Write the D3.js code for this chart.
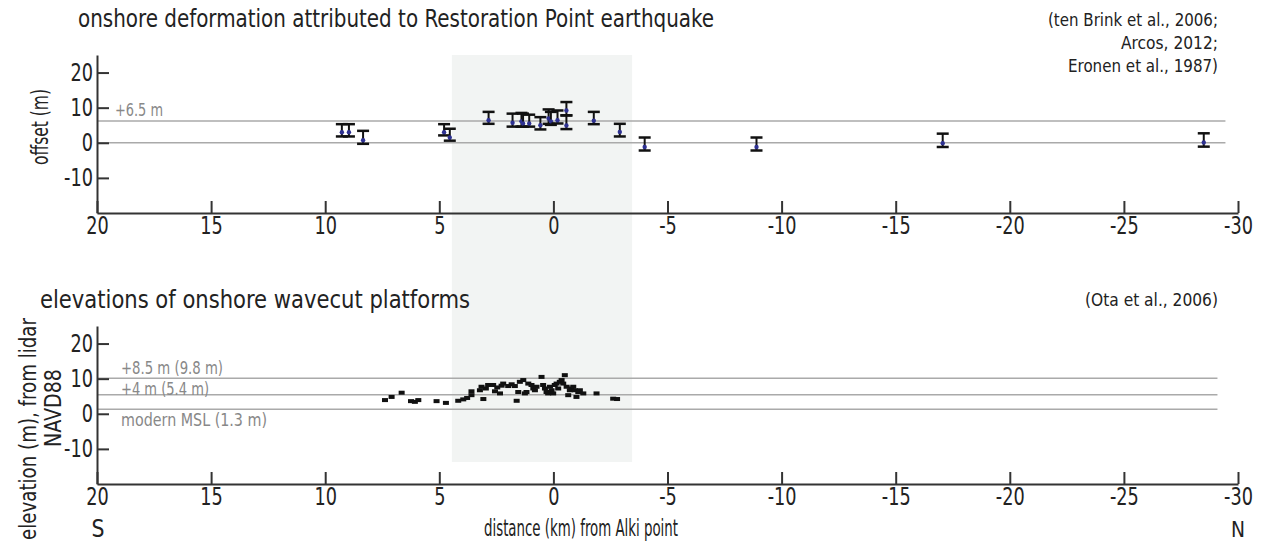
<!DOCTYPE html>
<html>
<head>
<meta charset="utf-8">
<script src="https://cdn.jsdelivr.net/npm/d3@7"></script>
<style>
  body { margin: 0; background: #fff; }
  svg text { font-family: "Liberation Sans Narrow", "DejaVu Sans Condensed", "Roboto Condensed", sans-serif; font-stretch: condensed; fill: #222; }
</style>
</head>
<body>
<div id="chart"></div>
<script>
// chart size
const width = 1261;
const height = 544;

// offset data, top panel (distance km, offset m, error bar low/high)
const offsetDist = [9.27, 8.96, 8.34, 4.79, 4.54, 2.84, 1.79, 1.40, 1.33, 1.06, 0.57, 0.21, 0.11, -0.18, -0.57, -0.57, -1.77, -2.91, -4.0, -8.9, -17.06, -28.5];
const offsetVal  = [3.0, 3.0, 0.7, 3.0, 1.5, 6.4, 5.7, 6.1, 5.5, 5.5, 5.0, 6.9, 6.1, 6.4, 9.2, 4.9, 6.3, 3.1, -1.2, -1.2, -0.1, 0.1];
const offsetLo   = [1.8, 1.8, -0.3, 2.1, 0.6, 5.4, 4.6, 4.6, 4.6, 4.6, 3.8, 5.4, 5.1, 5.5, 7.8, 3.9, 5.3, 1.8, -2.2, -2.2, -1.2, -1.1];
const offsetHi   = [5.3, 5.3, 3.4, 5.3, 4.0, 8.8, 8.3, 8.5, 8.3, 8.0, 7.3, 9.5, 8.8, 9.2, 11.6, 7.8, 8.8, 5.4, 1.5, 1.5, 2.6, 2.7];

// wavecut platform elevations, bottom panel
const platDist = [7.38, 7.09, 6.65, 6.24, 6.07, 5.92, 5.12, 4.71, 4.17, 3.95, 3.78, 3.59, 3.59, 3.22, 3.15, 3.07, 2.96, 2.86, 2.64, 2.56,
                  2.46, 2.34, 2.27, 2.20, 1.98, 1.83, 1.69, 1.61, 1.54, 1.47, 1.32, 1.25, 1.18, 1.10, 0.96, 0.88, 0.81, 0.74, 0.52, 0.45,
                  0.37, 0.30, 0.23, 0.15, 0.08, 0.01, -0.06, -0.14, -0.21, -0.28, -0.36, -0.43, -0.50, -0.58, -0.65, -0.72, -0.79, -0.87, -0.94, -1.01,
                  -1.09, -1.16, -1.31, -1.89, -2.62, -2.79];
const platElev = [3.9, 4.8, 6.0, 3.6, 3.4, 3.9, 3.6, 3.1, 3.7, 4.1, 4.5, 5.3, 6.4, 6.7, 7.7, 4.2, 7.2, 8.2, 8.2, 6.4,
                  7.5, 5.8, 8.0, 8.6, 7.9, 8.4, 7.9, 3.7, 6.2, 9.1, 9.6, 5.8, 6.2, 8.6, 8.2, 7.2, 6.7, 7.7, 10.5, 8.2,
                  7.2, 6.2, 5.8, 7.7, 6.7, 5.8, 8.2, 8.6, 7.2, 9.1, 9.6, 8.6, 11.0, 7.7, 5.3, 6.7, 7.2, 7.7, 6.7, 4.8,
                  6.2, 6.7, 5.8, 5.8, 4.3, 4.2];

// reference lines
const topLines = [0, 6.2];
const topLineLabels = [{v: 6.2, text: "+6.5 m", dy: -5, len: 48}];
const botLines = [10.1, 5.4, 1.3];
const botLineLabels = [
  {v: 10.1, text: "+8.5 m (9.8 m)", dy: -4, len: 102},
  {v: 5.4, text: "+4 m (5.4 m)", dy: 0, len: 88},
  {v: 1.3, text: "modern MSL (1.3 m)", dy: 17, len: 146}
];

// tick values
const xTicks = [20, 15, 10, 5, 0, -5, -10, -15, -20, -25, -30];
const yTicks = [20, 10, 0, -10];

// shaded zone
const shadeZone = [4.45, -3.45];

const svg = d3.select("#chart")
  .append("svg")
  .attr("width", width)
  .attr("height", height);

// scales
const xScale = d3.scaleLinear().domain([20, -30]).range([97, 1238]);
const yTop = d3.scaleLinear().domain([-20, 25]).range([213, 55]);
const yBot = d3.scaleLinear().domain([-20, 25]).range([484, 326]);

// helper for narrow text: squeeze to a given width
function label(x, y, str, size, len, anchor) {
  return svg.append("text")
    .attr("x", x).attr("y", y)
    .attr("font-size", size + "px")
    .attr("text-anchor", anchor || "start")
    .attr("textLength", len)
    .attr("lengthAdjust", "spacingAndGlyphs")
    .text(str);
}

// shade
svg.append("rect")
  .attr("x", xScale(shadeZone[0]))
  .attr("y", yTop(25))
  .attr("width", xScale(shadeZone[1]) - xScale(shadeZone[0]))
  .attr("height", 462 - yTop(25))
  .attr("fill", "#f2f4f3");

/*
  reference lines
*/
svg.selectAll(".topline")
  .data(topLines)
  .enter()
  .append("line")
  .attr("x1", xScale(20)).attr("x2", xScale(-29.45))
  .attr("y1", d => yTop(d)).attr("y2", d => yTop(d))
  .attr("stroke", "#aaa").attr("stroke-width", 1.5);

topLineLabels.forEach(d => {
  label(115, yTop(d.v) + d.dy, d.text, 17, d.len).style("fill", "#888");
});

svg.selectAll(".botline")
  .data(botLines)
  .enter()
  .append("line")
  .attr("x1", xScale(20)).attr("x2", xScale(-29.1))
  .attr("y1", d => yBot(d)).attr("y2", d => yBot(d))
  .attr("stroke", "#aaa").attr("stroke-width", 1.5);

botLineLabels.forEach(d => {
  label(121, yBot(d.v) + d.dy, d.text, 17, d.len).style("fill", "#888");
});

/*
  axes
*/
function drawAxes(yScale, yPos) {
  const gy = svg.append("g")
    .attr("transform", `translate(${xScale(20)},0)`)
    .call(d3.axisLeft(yScale).tickValues(yTicks).tickFormat(d => String(d))
      .tickSize(-12).tickSizeOuter(0).tickPadding(5))
    .attr("font-size", "24px");
  const gx = svg.append("g")
    .attr("transform", `translate(0,${yPos})`)
    .call(d3.axisBottom(xScale).tickValues(xTicks).tickFormat(d => String(d))
      .tickSize(-12).tickSizeOuter(0).tickPadding(4))
    .attr("font-size", "24px");
  [gy, gx].forEach(g => {
    g.select(".domain").attr("stroke", "#333").attr("stroke-width", 2);
    g.selectAll(".tick line").attr("stroke", "#333").attr("stroke-width", 2);
    g.selectAll("text").style("fill", "#222").attr("transform", "scale(0.82,1)");
  });
}
drawAxes(yTop, 213);
drawAxes(yBot, 484);

/*
  error bars (top)
*/
const offsetData = offsetDist.map((d, i) => ({dist: d, val: offsetVal[i], lo: offsetLo[i], hi: offsetHi[i]}));
const bars = svg.selectAll(".ebar")
  .data(offsetData)
  .enter()
  .append("g")
  .attr("class", "ebar");
bars.append("line")
  .attr("x1", d => xScale(d.dist)).attr("x2", d => xScale(d.dist))
  .attr("y1", d => yTop(d.lo)).attr("y2", d => yTop(d.hi))
  .attr("stroke", "#111").attr("stroke-width", 2);
bars.append("line")
  .attr("x1", d => xScale(d.dist) - 6).attr("x2", d => xScale(d.dist) + 6)
  .attr("y1", d => yTop(d.hi)).attr("y2", d => yTop(d.hi))
  .attr("stroke", "#111").attr("stroke-width", 2.5);
bars.append("line")
  .attr("x1", d => xScale(d.dist) - 6).attr("x2", d => xScale(d.dist) + 6)
  .attr("y1", d => yTop(d.lo)).attr("y2", d => yTop(d.lo))
  .attr("stroke", "#111").attr("stroke-width", 2.5);
bars.append("circle")
  .attr("cx", d => xScale(d.dist))
  .attr("cy", d => yTop(d.val))
  .attr("r", 2.2)
  .attr("fill", "#2e3192");

/*
  platform points (bottom)
*/
const platData = platDist.map((d, i) => ({dist: d, elev: platElev[i]}));
svg.selectAll(".plat")
  .data(platData)
  .enter()
  .append("rect")
  .attr("x", d => xScale(d.dist) - 3)
  .attr("y", d => yBot(d.elev) - 2)
  .attr("width", 6)
  .attr("height", 4)
  .attr("fill", "#111");

/*
  titles and labels
*/
label(78, 27, "onshore deformation attributed to Restoration Point earthquake", 24, 636);
label(40, 308, "elevations of onshore wavecut platforms", 24, 430);

const cites = [["(ten Brink et al., 2006;", 170], ["Arcos, 2012;", 97], ["Eronen et al., 1987)", 150]];
cites.forEach((c, i) => label(1218, 26 + i * 23, c[0], 18, c[1], "end"));
label(1218, 306, "(Ota et al., 2006)", 18, 133, "end");

svg.append("text")
  .attr("transform", "translate(48,127) rotate(-90)")
  .attr("text-anchor", "middle").attr("font-size", "23px")
  .attr("textLength", 76).attr("lengthAdjust", "spacingAndGlyphs")
  .text("offset (m)");
svg.append("text")
  .attr("transform", "translate(36,429) rotate(-90)")
  .attr("text-anchor", "middle").attr("font-size", "23px")
  .attr("textLength", 222).attr("lengthAdjust", "spacingAndGlyphs")
  .text("elevation (m), from lidar");
svg.append("text")
  .attr("transform", "translate(61,408) rotate(-90)")
  .attr("text-anchor", "middle").attr("font-size", "23px")
  .attr("textLength", 78).attr("lengthAdjust", "spacingAndGlyphs")
  .text("NAVD88");

label(98, 537, "S", 24, 13, "middle");
label(1238, 537, "N", 22, 14, "middle");
label(581, 536, "distance (km) from Alki point", 23, 194, "middle");
</script>
</body>
</html>
